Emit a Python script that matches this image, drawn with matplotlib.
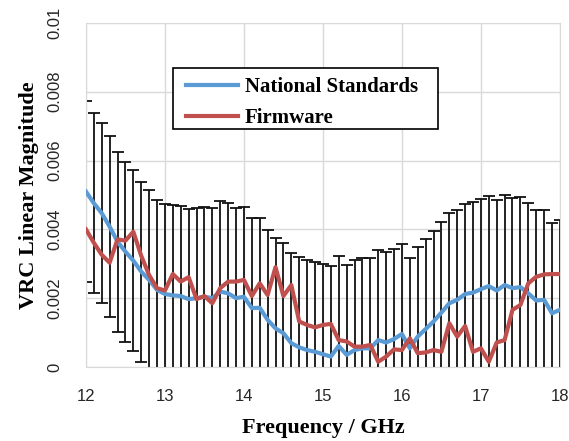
import matplotlib
matplotlib.use("Agg")
import matplotlib.pyplot as plt
from matplotlib.patches import Rectangle
import numpy as np

# frequency points, 12 - 18 GHz in 0.1 GHz steps
freq = np.round(np.arange(120, 181) / 10, 1)

# values (units of 1e-3)
national = [5.10, 4.76, 4.47, 4.08, 3.64, 3.35, 3.09, 2.77, 2.53, 2.24,
            2.12, 2.08, 2.06, 1.97, 2.00, 2.04, 2.00, 2.19, 2.14, 2.00,
            2.04, 1.71, 1.72, 1.37, 1.12, 0.98, 0.69, 0.57, 0.49, 0.44,
            0.37, 0.30, 0.61, 0.35, 0.49, 0.54, 0.54, 0.78, 0.71, 0.81,
            0.96, 0.54, 0.88, 1.10, 1.32, 1.58, 1.85, 1.95, 2.12, 2.16,
            2.26, 2.35, 2.22, 2.38, 2.29, 2.32, 2.14, 1.93, 1.95, 1.56,
            1.66]
firmware = [4.00, 3.61, 3.26, 3.03, 3.71, 3.67, 3.93, 3.23, 2.67, 2.29,
            2.22, 2.70, 2.48, 2.61, 1.97, 2.06, 1.85, 2.29, 2.48, 2.48,
            2.53, 2.06, 2.43, 2.09, 2.90, 2.06, 2.38, 1.32, 1.22, 1.15,
            1.22, 1.25, 0.78, 0.74, 0.59, 0.59, 0.64, 0.15, 0.30, 0.51,
            0.49, 0.83, 0.40, 0.42, 0.49, 0.44, 1.27, 0.88, 1.19, 0.44,
            0.54, 0.15, 0.71, 0.78, 1.66, 1.80, 2.43, 2.62, 2.69, 2.70,
            2.70]
uncertainty = 2.62  # error bar half width, 1e-3

y_ticks = [0, 0.002, 0.004, 0.006, 0.008, 0.01]
y_tick_labels = ["0", "0.002", "0.004", "0.006", "0.008", "0.01"]
x_ticks = [12, 13, 14, 15, 16, 17, 18]

national = np.array(national) * 1e-3
firmware = np.array(firmware) * 1e-3

fig = plt.figure(figsize=(5.69, 4.41), dpi=100)
ax = fig.add_axes([0.151, 0.168, 0.833, 0.78])

ax.errorbar(freq, national, yerr=uncertainty * 1e-3, fmt="none",
            ecolor="#111111", elinewidth=1.3, capsize=4, capthick=1.3,
            zorder=2)
ax.plot(freq, national, color="#5B9BD5", lw=3, label="National Standards",
        zorder=3)
ax.plot(freq, firmware, color="#C0504D", lw=3, label="Firmware", zorder=3)

ax.set_xlim(12, 18)
ax.set_ylim(0, 0.01)
ax.set_xticks(x_ticks)
ax.set_yticks(y_ticks)
ax.set_yticklabels(y_tick_labels, rotation=90, va="center")
ax.tick_params(length=0, labelsize=12)
ax.tick_params(axis="x", pad=16)
ax.tick_params(axis="y", pad=17)
for lab in ax.get_xticklabels() + ax.get_yticklabels():
    lab.set_family("Liberation Sans")
    lab.set_color("#262626")
ax.grid(True, color="#d9d9d9", lw=1)
ax.set_axisbelow(True)
for s in ax.spines.values():
    s.set_color("#d9d9d9")

ax.set_xlabel("Frequency / GHz", family="Liberation Serif", weight="bold",
              fontsize=16, labelpad=10)
ax.set_ylabel("VRC Linear Magnitude", family="Liberation Serif",
              weight="bold", fontsize=16, labelpad=6)

# legend box (Excel style: wider side padding than matplotlib's frame)
ax.add_patch(Rectangle((0.1835, 0.692), 0.559, 0.177, transform=ax.transAxes,
                       facecolor="white", edgecolor="black", lw=1.2,
                       zorder=4))
leg = ax.legend(loc="upper left", bbox_to_anchor=(0.212, 0.843),
                borderaxespad=0, borderpad=0, frameon=False,
                prop=dict(family="Liberation Serif", weight="bold", size=15),
                handlelength=2.5, labelspacing=0.55, handletextpad=0.3)
leg.set_zorder(5)

fig.savefig("out.png", dpi=100)
